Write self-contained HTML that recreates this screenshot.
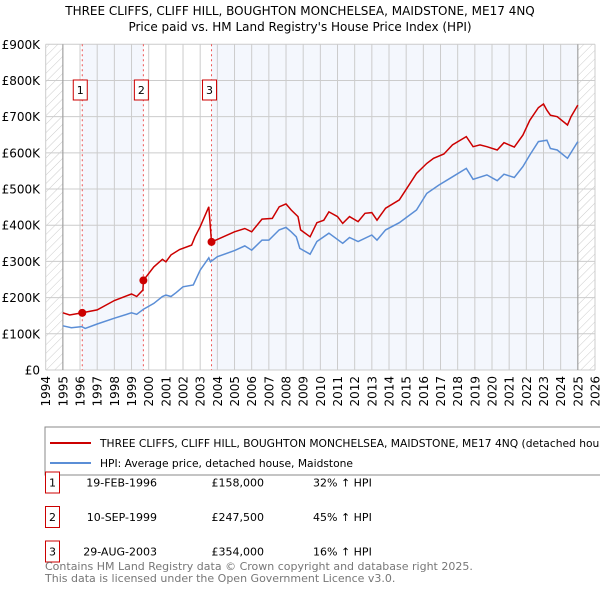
<!DOCTYPE html>
<html><head><meta charset="utf-8"><style>
body{margin:0;background:#fff;font-family:"DejaVu Sans","Liberation Sans",sans-serif;}
svg text{font-family:"DejaVu Sans","Liberation Sans",sans-serif;}
</style></head><body>
<svg id="c" width="600" height="590" xmlns="http://www.w3.org/2000/svg">
<defs><pattern id="h" width="6" height="6" patternUnits="userSpaceOnUse" patternTransform="rotate(45)"><line x1="0" y1="0" x2="0" y2="6" stroke="#ccc" stroke-width="1"/></pattern></defs>
<text x="300" y="15" text-anchor="middle" font-size="12">THREE CLIFFS, CLIFF HILL, BOUGHTON MONCHELSEA, MAIDSTONE, ME17 4NQ</text>
<text x="300" y="31" text-anchor="middle" font-size="12">Price paid vs. HM Land Registry's House Price Index (HPI)</text>
<g id="plot"></g>
<rect x="45" y="427" width="560" height="48" fill="#fff" stroke="#888"/>
<line x1="50" y1="443" x2="91" y2="443" stroke="#cc0000" stroke-width="2"/>
<text x="100" y="447" font-size="10.7">THREE CLIFFS, CLIFF HILL, BOUGHTON MONCHELSEA, MAIDSTONE, ME17 4NQ (detached house)</text>
<line x1="50" y1="463" x2="91" y2="463" stroke="#5b8ed6" stroke-width="2"/>
<text x="100" y="467" font-size="10.7">HPI: Average price, detached house, Maidstone</text>
<g id="tbl"></g>
<text x="45" y="570" font-size="11" fill="#777">Contains HM Land Registry data © Crown copyright and database right 2025.</text>
<text x="45" y="582" font-size="11" fill="#777">This data is licensed under the Open Government Licence v3.0.</text>
</svg>
<script>
const yTicks=[0,100,200,300,400,500,600,700,800,900];
const yLabels=["£0","£100K","£200K","£300K","£400K","£500K","£600K","£700K","£800K","£900K"];
const hpiYears=[1995.0,1995.5,1996.1,1996.3,1997,1998,1999,1999.3,1999.7,2000.3,2000.8,2001.0,2001.3,2001.6,2002,2002.6,2003,2003.5,2003.6,2004,2005,2005.6,2006,2006.6,2007,2007.6,2008,2008.3,2008.6,2008.8,2009.4,2009.8,2010.5,2011.3,2011.7,2012.2,2013,2013.3,2013.8,2014.6,2015.6,2016.2,2016.9,2017.7,2018.5,2018.9,2019.7,2020.3,2020.7,2021.3,2021.8,2022.2,2022.7,2023.2,2023.4,2023.8,2024.4,2025.0];
const hpiValues=[122,117,120,115,127,143,158,154,168,184,203,207,203,214,230,235,276,310,299,313,330,343,331,359,359,387,394,382,368,336,320,355,378,350,366,355,373,359,387,407,442,488,511,534,557,527,539,523,541,532,562,594,631,635,612,608,585,631];
const priceYears=[1995.0,1995.4,1996.13,1997,1998,1999,1999.3,1999.66,1999.7,2000.3,2000.8,2001.0,2001.3,2001.8,2002.5,2002.7,2003.0,2003.5,2003.66,2004,2005,2005.6,2006,2006.6,2007.2,2007.6,2008,2008.3,2008.7,2008.85,2009.4,2009.8,2010.2,2010.5,2011.0,2011.3,2011.7,2012.2,2012.6,2013.0,2013.3,2013.8,2014.6,2015.6,2016.2,2016.6,2017.2,2017.7,2018.5,2018.9,2019.3,2019.7,2020.3,2020.7,2021.3,2021.8,2022.2,2022.7,2023.0,2023.2,2023.4,2023.8,2024.4,2024.6,2025.0];
const priceValues=[158,152,158,166,192,210,203,221,248,285,306,299,318,333,345,368,396,451,354,361,382,391,382,417,419,451,459,442,424,387,368,407,414,437,424,405,424,410,433,435,414,447,470,543,571,585,597,622,645,617,622,617,608,628,616,649,690,725,735,718,704,700,677,700,732];
const saleYears=[1996.13,1999.69,2003.66];
const saleValues=[158,247.5,354];
const saleLabels=["1","2","3"];
const saleDates=["19-FEB-1996","10-SEP-1999","29-AUG-2003"];
const salePrices=["£158,000","£247,500","£354,000"];
const saleDiffs=["32% ↑ HPI","45% ↑ HPI","16% ↑ HPI"];
const NS="http://www.w3.org/2000/svg";
const X0=45.7,X1=595,Y0=370,Y1=44.3;
const x=t=>X0+(t-1994)/32*(X1-X0);
const y=v=>Y0-v/900*(Y0-Y1);
const g=document.getElementById('plot');
function mk(tag,attrs,parent){const e=document.createElementNS(NS,tag);for(const k in attrs)e.setAttribute(k,attrs[k]);(parent||g).appendChild(e);return e;}
let e;
e=mk('rect',{x:x(1995),y:Y1,width:x(2025)-x(1995),height:Y0-Y1,fill:'#fff'});


e=mk('rect',{x:x(saleYears[0]),y:Y1,width:x(saleYears[1])-x(saleYears[0]),height:Y0-Y1,fill:'#f4f7fd'});


e=mk('rect',{x:x(saleYears[2]),y:Y1,width:x(2025)-x(saleYears[2]),height:Y0-Y1,fill:'#f4f7fd'});


e=mk('rect',{x:X0,y:Y1,width:x(1995)-X0,height:Y0-Y1,fill:'url(#h)'});


e=mk('rect',{x:x(2025),y:Y1,width:X1-x(2025),height:Y0-Y1,fill:'url(#h)'});


for(let yr=1994;yr<=2026;yr++){
 e=mk('line',{x1:x(yr),x2:x(yr),y1:Y1,y2:Y0,stroke:'#ccc','stroke-width':1});
 
 
 e=mk('text',{x:0,y:0,'font-size':12,'text-anchor':'end',transform:`translate(${x(yr)+4.5},${Y0+6}) rotate(-90)`});
 e.textContent=yr;
 
 
}
yTicks.forEach((v,i)=>{
 e=mk('line',{x1:X0,x2:X1,y1:y(v),y2:y(v),stroke:'#ccc','stroke-width':1});
 
 
 e=mk('text',{x:40,y:y(v)+4.5,'font-size':12,'text-anchor':'end'});
 e.textContent=yLabels[i];
 
 
});
e=mk('line',{x1:x(1995),x2:x(1995),y1:Y1,y2:Y0,stroke:'#999'});


e=mk('line',{x1:x(2025),x2:x(2025),y1:Y1,y2:Y0,stroke:'#999'});


saleYears.forEach((t,i)=>{
 e=mk('line',{x1:x(t),x2:x(t),y1:Y1,y2:Y0,stroke:'#e55','stroke-dasharray':'2,3','stroke-width':1});
 
 
 e=mk('rect',{x:x(t)-9,y:80,width:14,height:20,fill:'#fff',stroke:'#cc0000'});
 
 
 e=mk('text',{x:x(t)-2,y:94,'font-size':11,'text-anchor':'middle'});
 e.textContent=saleLabels[i];
 
 
});
const pts=(xs,vs)=>xs.map((t,i)=>x(t).toFixed(1)+','+y(vs[i]).toFixed(1)).join(' ');
e=mk('polyline',{points:pts(hpiYears,hpiValues),fill:'none',stroke:'#5b8ed6','stroke-width':1.5});


e=mk('polyline',{points:pts(priceYears,priceValues),fill:'none',stroke:'#cc0000','stroke-width':1.5});


saleYears.forEach((t,i)=>{
 e=mk('circle',{cx:x(t),cy:y(saleValues[i]),r:4,fill:'#cc0000'});
 
 
});
const tb=document.getElementById('tbl');
saleLabels.forEach((l,i)=>{
 const yy=482+i*34.5;
 e=mk('rect',{x:45.5,y:yy-10,width:14,height:21,fill:'#fff',stroke:'#cc0000'},tb);
 
 
 e=mk('text',{x:52.5,y:yy+4.5,'font-size':11,'text-anchor':'middle'},tb);e.textContent=l;
 
 
 e=mk('text',{x:157,y:yy+4.5,'font-size':11,'text-anchor':'end'},tb);e.textContent=saleDates[i];
 
 
 e=mk('text',{x:264,y:yy+4.5,'font-size':11,'text-anchor':'end'},tb);e.textContent=salePrices[i];
 
 
 e=mk('text',{x:313,y:yy+4.5,'font-size':11},tb);e.textContent=saleDiffs[i];
 
 
});
</script>
</body></html>
